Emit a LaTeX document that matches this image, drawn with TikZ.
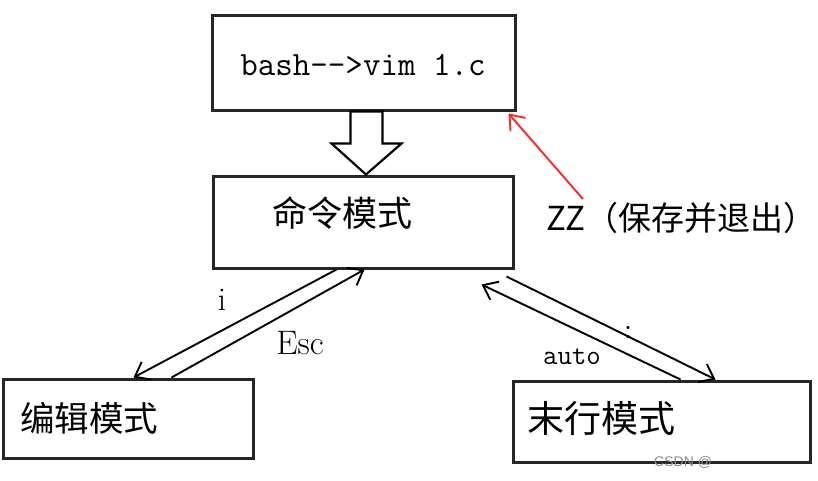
\documentclass[tikz,border=0pt]{standalone}
\usepackage{fontspec}
\newfontfamily\cjk{Noto Sans CJK SC}
\newfontfamily\markfont{Liberation Sans}
\usetikzlibrary{arrows.meta}
\usetikzlibrary{calc}

\begin{document}
\begin{tikzpicture}[x=1pt, y=-1pt,
  box/.style={draw=black!85, line width=3pt, inner sep=0pt},
  flow/.style={line width=1.9pt, -{Straight Barb[length=13pt,width=20pt,line width=1.9pt]}},
  cn/.style={font=\cjk\fontsize{#1}{#1}\selectfont, inner sep=0pt},
  mono/.style={font=\ttfamily\fontsize{#1}{#1}\selectfont, inner sep=0pt}]

\useasboundingbox (0,0) rectangle (818,480);

% boxes
\node[box, minimum width=303, minimum height=95] (vim) at (363.5,62.5) {};
\node[mono=34] (vimtext) at (363,65) {bash-{}->vim 1.c};

\node[box, minimum width=300, minimum height=92] (cmd) at (363,222) {};
\node[cn=35, anchor=west] (cmdtext) at (272,213) {命令模式};

\node[box, minimum width=250, minimum height=79] (edit) at (128,418.5) {};
\node[cn=34.5, anchor=west] (edittext) at (20,418) {编辑模式};

\node[box, minimum width=297, minimum height=81] (last) at (661.5,421.5) {};
\node[cn=37, anchor=west] (lasttext) at (527,418) {末行模式};

% hollow arrow
\coordinate (hollow) at ($(vim.south)+(3,0)$);
\coordinate (tip) at ($(cmd.north)+(3,0)$);
\draw[line width=2.2pt, fill=white] ($(hollow)+(-16,0)$) -- ($(hollow)+(-16,32)$)
  -- ($(hollow)+(-35,32)$) -- (tip) -- ($(hollow)+(35,32)$)
  -- ($(hollow)+(16,32)$) -- ($(hollow)+(16,0)$) -- cycle;

% left pair
\draw[flow] ($(cmd.south west)+(125,0)$) -- ($(edit.north west)+(132,0)$);
\draw[flow] ($(edit.north west)+(170,0)$) -- ($(cmd.south west)+(153,0)$);
\node[font=\fontsize{33}{33}\selectfont] (ilabel) at (222,300) {i};
\node[font=\fontsize{34}{34}\selectfont] (esclabel) at (300,343) {Esc};

% right pair
\draw[flow] ($(cmd.south east)+(-8,7)$) -- ($(last.north west)+(204,0)$);
\draw[flow] ($(last.north west)+(169,0)$) -- ($(cmd.south east)+(-33,15)$);
\node[mono=28] (colon) at (628,332) {:};
\node[mono=28] (autolabel) at (572,357) {auto};

% ZZ
\node[cn=33, anchor=west] (zz) at (546,218) {ZZ（保存并退出）};
\draw[flow, draw=red!85] ($(zz.north west)+(37,-3)$) -- ($(vim.south east)+(-8,2)$);

\node[font=\markfont\fontsize{14}{14}\selectfont, text=black!45, anchor=west, inner sep=0pt] (mark) at (654,462) {CSDN @};

\end{tikzpicture}
\end{document}
